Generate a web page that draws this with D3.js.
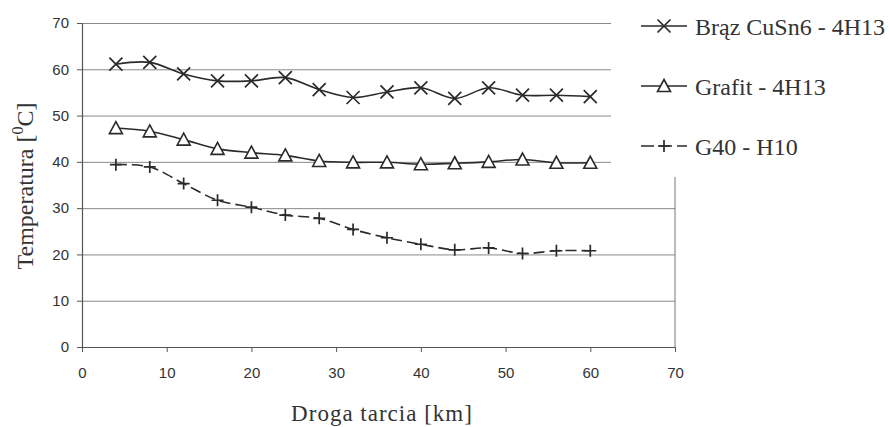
<!DOCTYPE html>
<html>
<head>
<meta charset="utf-8">
<script src="https://cdn.jsdelivr.net/npm/d3@7/dist/d3.min.js"></script>
<style>
  body { margin: 0; background: #fff; }
  svg { display: block; }
  .serif { font-family: "Liberation Serif"; }
  .sans { font-family: "Liberation Sans"; }
</style>
</head>
<body>
<svg id="fig" width="890" height="427"></svg>
<script>
// data
const distance = [4, 8, 12, 16, 20, 24, 28, 32, 36, 40, 44, 48, 52, 56, 60];
const bronze = [61.1, 61.5, 59.0, 57.5, 57.5, 58.2, 55.6, 53.9, 55.1, 56.0, 53.7, 56.0, 54.4, 54.4, 54.1];
const grafit = [47.3, 46.6, 44.8, 42.8, 42.0, 41.4, 40.2, 39.9, 39.9, 39.5, 39.7, 40.0, 40.5, 39.8, 39.8];
const g40 = [39.4, 38.9, 35.3, 31.7, 30.2, 28.5, 27.8, 25.4, 23.6, 22.2, 21.0, 21.4, 20.2, 20.8, 20.8];
const seriesNames = ["Brąz CuSn6 - 4H13", "Grafit - 4H13", "G40 - H10"];
const xTicks = [0, 10, 20, 30, 40, 50, 60, 70];
const yTicks = [0, 10, 20, 30, 40, 50, 60, 70];

const ink = "#2a2a2a";

const svg = d3.select("#fig");
const plotL = 82, plotR = 675, plotT = 23, plotB = 347;

const x = d3.scaleLinear().domain([0, 70]).range([plotL, plotR]);
const y = d3.scaleLinear().domain([0, 70]).range([plotB, plotT]);

// grid lines
svg.append("g")
  .attr("transform", `translate(${plotL},0)`)
  .call(d3.axisLeft(y).tickValues(yTicks.slice(1)).tickSize(-(plotR - plotL)).tickFormat(""))
  .call(g => g.select(".domain").remove())
  .call(g => g.selectAll("line").attr("stroke", "#8a8a8a").attr("stroke-width", 1));

// right border
svg.append("line")
  .attr("x1", plotR).attr("x2", plotR).attr("y1", plotT).attr("y2", plotB)
  .attr("stroke", "#777").attr("stroke-width", 1);

// axes
const yAxis = svg.append("g")
  .attr("transform", `translate(${plotL},0)`)
  .call(d3.axisLeft(y).tickValues(yTicks).tickSize(5).tickSizeOuter(0).tickPadding(8));
const xAxis = svg.append("g")
  .attr("transform", `translate(0,${plotB})`)
  .call(d3.axisBottom(x).tickValues(xTicks).tickSize(5).tickSizeOuter(0).tickPadding(15));
[xAxis, yAxis].forEach(a => {
  a.attr("font-family", null);
  a.select(".domain").attr("stroke", "#555").attr("stroke-width", 1.2);
  a.selectAll(".tick line").attr("stroke", "#555");
  a.selectAll("text").attr("class", "sans").style("font-size", "15px").attr("fill", "#333");
});

// legend area covers the top right of the frame
svg.append("rect")
  .attr("x", 611).attr("y", 0).attr("width", 279).attr("height", 177)
  .attr("fill", "#fff");

const line = d3.line()
  .x((d, i) => x(distance[i]))
  .y(d => y(d))
  .curve(d3.curveCatmullRom.alpha(0.5));

function marker(g, kind, cx, cy) {
  if (kind === "x") {
    const s = 6.5;
    g.append("path")
      .attr("d", `M${cx - s},${cy - s}L${cx + s},${cy + s}M${cx - s},${cy + s}L${cx + s},${cy - s}`)
      .attr("stroke", ink).attr("stroke-width", 1.7).attr("fill", "none");
  } else if (kind === "tri") {
    const s = 6.5;
    g.append("path")
      .attr("d", `M${cx},${cy - s}L${cx + s},${cy + s * 0.85}L${cx - s},${cy + s * 0.85}Z`)
      .attr("stroke", ink).attr("stroke-width", 1.6).attr("fill", "#fff");
  } else {
    const s = 6;
    g.append("path")
      .attr("d", `M${cx - s},${cy}L${cx + s},${cy}M${cx},${cy - s}L${cx},${cy + s}`)
      .attr("stroke", ink).attr("stroke-width", 1.7).attr("fill", "none");
  }
}

const series = [
  {values: bronze, kind: "x", dash: null},
  {values: grafit, kind: "tri", dash: null},
  {values: g40, kind: "plus", dash: "11,5"}
];

series.forEach(s => {
  svg.append("path")
    .attr("d", line(s.values))
    .attr("fill", "none")
    .attr("stroke", ink)
    .attr("stroke-width", 1.6)
    .attr("stroke-dasharray", s.dash);
  const mg = svg.append("g");
  s.values.forEach((v, i) => marker(mg, s.kind, x(distance[i]), y(v)));
});

// legend
const legendY = [26, 86, 146];
series.forEach((s, i) => {
  const g = svg.append("g");
  g.append("line")
    .attr("x1", 641).attr("x2", 687).attr("y1", legendY[i]).attr("y2", legendY[i])
    .attr("stroke", ink).attr("stroke-width", 1.6)
    .attr("stroke-dasharray", s.dash ? "13,5" : null);
  marker(g, s.kind, 664, legendY[i]);
  g.append("text")
    .attr("class", "serif")
    .attr("x", 695).attr("y", legendY[i] + 9)
    .style("font-size", "24px")
    .attr("fill", "#333")
    .text(seriesNames[i]);
});

// axis titles
svg.append("text")
  .attr("class", "serif")
  .attr("x", 382).attr("y", 421)
  .attr("text-anchor", "middle")
  .style("font-size", "23px")
  .style("letter-spacing", "1px")
  .attr("fill", "#333")
  .text("Droga tarcia [km]");

const yt = svg.append("text")
  .attr("class", "serif")
  .attr("transform", "translate(33,186) rotate(-90)")
  .attr("text-anchor", "middle")
  .style("font-size", "24px")
  .attr("fill", "#333");
yt.append("tspan").text("Temperatura [");
yt.append("tspan").attr("dy", -10).style("font-size", "16px").text("0");
yt.append("tspan").attr("dy", 10).text("C]");
</script>
</body>
</html>
